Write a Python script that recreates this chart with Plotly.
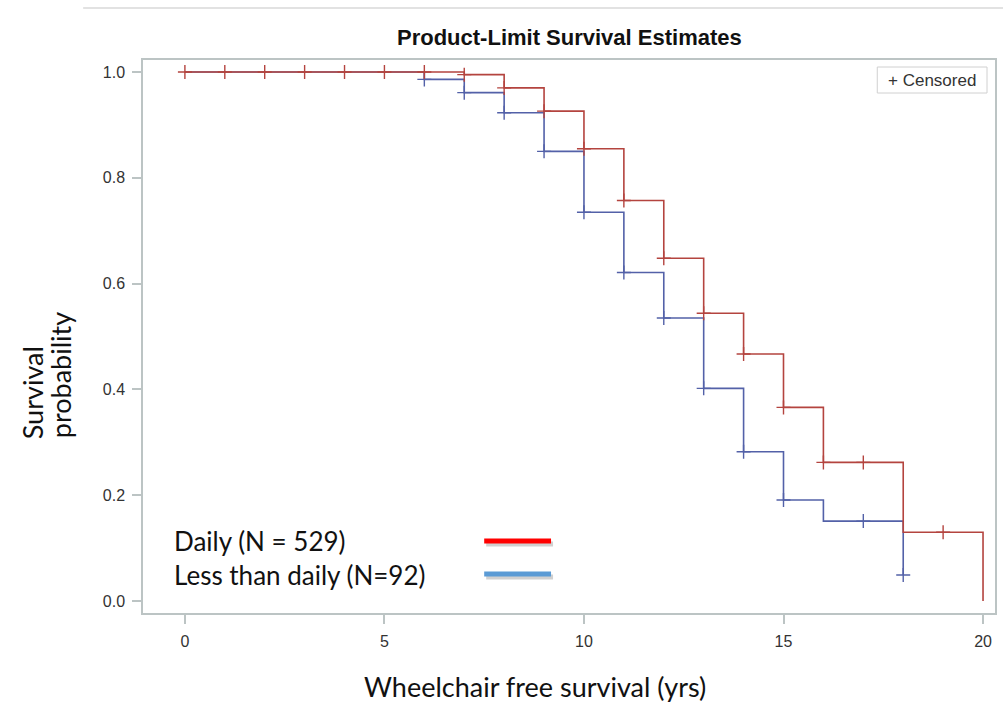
import numpy as np
import plotly.graph_objects as go

# Kaplan-Meier step estimates (time in years, survival probability)
daily_times = [0, 7, 8, 9, 10, 11, 12, 13, 14, 15, 16, 18, 20]
daily_surv = [1.0, 0.995, 0.970, 0.926, 0.855, 0.757, 0.648, 0.544, 0.467, 0.366, 0.262, 0.130, 0.0]
daily_censored = [0, 1, 2, 3, 4, 5, 6, 7, 8, 9, 10, 11, 12, 13, 14, 15, 16, 17, 19]

less_times = [0, 6, 7, 8, 9, 10, 11, 12, 13, 14, 15, 16, 18]
less_surv = [1.0, 0.986, 0.961, 0.923, 0.850, 0.735, 0.621, 0.535, 0.402, 0.282, 0.191, 0.151, 0.049]
less_censored = [6, 7, 8, 9, 10, 11, 12, 13, 14, 15, 17, 18]

group_labels = ["Daily (N = 529)", "Less than daily (N=92)"]
x_ticks = [0, 5, 10, 15, 20]
y_ticks = [0.0, 0.2, 0.4, 0.6, 0.8, 1.0]

RED = "#B4443F"
BLUE = "#5361A8"
AXIS_GREY = "#BCC4C4"

W, H = 1005, 703
L, R, T, B = 143, 997, 60, 613


def px(x):
    return (x - L) / (R - L)


def py(y):
    return (B - y) / (B - T)


def step_value(times, surv, t):
    idx = np.searchsorted(np.asarray(times), t, side="right") - 1
    return [surv[i] for i in idx]


fig = go.Figure()

# blue curve first so the red one sits on top where they coincide
for times, surv, cens, color in [
    (less_times, less_surv, less_censored, BLUE),
    (daily_times, daily_surv, daily_censored, RED),
]:
    fig.add_trace(go.Scatter(
        x=times, y=surv, mode="lines", line=dict(color=color, width=1.6, shape="hv"),
        showlegend=False, hoverinfo="skip",
    ))
    fig.add_trace(go.Scatter(
        x=cens, y=step_value(times, surv, cens), mode="markers",
        marker=dict(symbol="cross-thin", size=10, line=dict(color=color, width=1.4)),
        showlegend=False, hoverinfo="skip",
    ))

font_axis = "Liberation Sans, Arial, sans-serif"
font_label = "Lato, Carlito, Calibri, sans-serif"

tick_font = dict(family=font_axis, size=16, color="#333333")

fig.update_layout(
    width=W, height=H,
    margin=dict(l=L, r=W - R, t=T, b=H - B, pad=0),
    paper_bgcolor="white", plot_bgcolor="white",
    showlegend=False,
    xaxis=dict(
        range=[-1.05, 20.3], tickvals=x_ticks, ticktext=[str(v) for v in x_ticks],
        showgrid=False, zeroline=False, showline=True, mirror=True,
        linecolor=AXIS_GREY, linewidth=1.5,
        ticks="outside", ticklen=9, tickwidth=1.5, tickcolor=AXIS_GREY,
        tickfont=tick_font, ticklabelstandoff=4,
    ),
    yaxis=dict(
        range=[-0.0227, 1.0227], tickvals=y_ticks, ticktext=[f"{v:.1f}" for v in y_ticks],
        showgrid=False, zeroline=False, showline=True, mirror=True,
        linecolor=AXIS_GREY, linewidth=1.5,
        ticks="outside", ticklen=9, tickwidth=1.5, tickcolor=AXIS_GREY,
        tickfont=tick_font, ticklabelstandoff=4,
    ),
)

annotations = [
    dict(text="<b>Product-Limit Survival Estimates</b>", x=px(570), y=py(38),
         font=dict(family="Liberation Sans Narrow, Arial Narrow, sans-serif", size=22, color="#111111")),
    dict(text="+ Censored", x=px(934), y=py(80),
         font=dict(family=font_axis, size=17, color="#333333")),
    dict(text="Wheelchair free survival (yrs)", x=px(536), y=py(686),
         font=dict(family=font_label, size=27, color="#111111")),
    dict(text="Survival", x=px(32), y=py(393), textangle=-90,
         font=dict(family=font_label, size=27, color="#111111")),
    dict(text="probability", x=px(61), y=py(375), textangle=-90,
         font=dict(family=font_label, size=27, color="#111111")),
    dict(text=group_labels[0], x=px(172), y=py(541), xanchor="left",
         font=dict(family=font_label, size=26, color="#111111")),
    dict(text=group_labels[1], x=px(172), y=py(575), xanchor="left",
         font=dict(family=font_label, size=26, color="#111111")),
]
for a in annotations:
    a.setdefault("xanchor", "center")
    a.update(xref="paper", yref="paper", yanchor="middle", showarrow=False)
fig.update_layout(annotations=annotations)

shapes = [
    # thin rule across the top of the page
    dict(type="line", x0=px(83), x1=px(1005), y0=py(8), y1=py(8),
         line=dict(color="#E2E2E2", width=2)),
    # box around the censor key
    dict(type="rect", x0=px(879), x1=px(989), y0=py(93), y1=py(67),
         line=dict(color="#D0D0D0", width=1), fillcolor="white"),
    # group swatches with a soft shadow
    dict(type="line", x0=px(487), x1=px(554), y0=py(544), y1=py(544),
         line=dict(color="rgba(120,120,120,0.35)", width=5)),
    dict(type="line", x0=px(485), x1=px(552), y0=py(541), y1=py(541),
         line=dict(color="#FF0000", width=5)),
    dict(type="line", x0=px(487), x1=px(554), y0=py(577), y1=py(577),
         line=dict(color="rgba(120,120,120,0.35)", width=5)),
    dict(type="line", x0=px(485), x1=px(552), y0=py(574), y1=py(574),
         line=dict(color="#5B9BD5", width=5)),
]
for s in shapes:
    s.update(xref="paper", yref="paper", layer="above")
fig.update_layout(shapes=shapes)

fig.write_html("out.html")
